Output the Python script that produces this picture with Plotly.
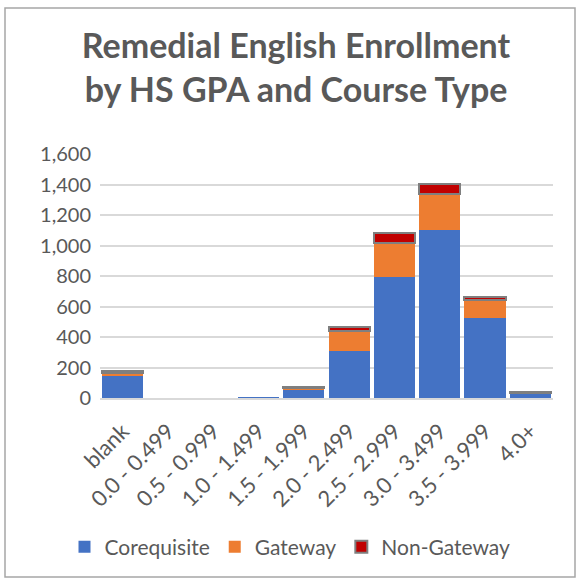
import plotly.graph_objects as go

gpa_bands = ["blank", "0.0 - 0.499", "0.5 - 0.999", "1.0 - 1.499", "1.5 - 1.999",
             "2.0 - 2.499", "2.5 - 2.999", "3.0 - 3.499", "3.5 - 3.999", "4.0+"]
corequisite = [145, None, None, 3, 55, 310, 795, 1100, 525, 28]
gateway = [17, None, None, None, 12, 130, 220, 235, 115, 5]
non_gateway = [12, None, None, None, 6, 25, 65, 70, 25, 5]

TEXT = "#595959"
GRID = "#d9d9d9"
FONT = "Lato"

W, H = 580, 579
ML, MR, MT, MB = 100, 27, 154, 181

fig = go.Figure()
fig.add_trace(go.Bar(x=gpa_bands, y=corequisite, name="Corequisite",
                     marker=dict(color="#4472C4", line=dict(width=0))))
fig.add_trace(go.Bar(x=gpa_bands, y=gateway, name="Gateway",
                     marker=dict(color="#ED7D31", line=dict(width=0))))
fig.add_trace(go.Bar(x=gpa_bands, y=non_gateway, name="Non-Gateway",
                     marker=dict(color="#C00000", line=dict(color="#7f7f7f", width=2))))

pw, ph = W - ML - MR, H - MT - MB


def px_x(v):
    return (v - ML) / pw


def px_y(v):
    return (H - MB - v) / ph


fig.update_layout(
    width=W, height=H,
    barmode="stack", bargap=0.09,
    paper_bgcolor="white", plot_bgcolor="white",
    font=dict(family=FONT, size=20, color=TEXT),
    title=dict(text="<b>Remedial English Enrollment<br>by HS GPA and Course Type</b>",
               x=296 / W, xanchor="center", y=1 - 58 / H, yanchor="middle",
               font=dict(family=FONT, size=34, color=TEXT)),
    margin=dict(l=ML, r=MR, t=MT, b=MB, autoexpand=False),
    legend=dict(orientation="h", x=px_x(290), xanchor="center", y=px_y(547), yanchor="middle",
                font=dict(size=21, color=TEXT), traceorder="normal"),
    shapes=[dict(type="rect", xref="paper", yref="paper",
                 x0=px_x(5), x1=px_x(575), y0=px_y(577), y1=px_y(8),
                 line=dict(color="#a6a6a6", width=1.5), layer="below")],
)
fig.update_xaxes(showgrid=False, tickangle=-45, showline=True, linecolor=GRID, linewidth=1.5,
                 ticks="", automargin=False, ticklabelstandoff=10,
                 tickfont=dict(size=22, color=TEXT))
fig.update_yaxes(range=[0, 1600], dtick=200, tickformat=",", gridcolor=GRID, gridwidth=1.5,
                 zeroline=False, ticks="", automargin=False, ticklabelstandoff=8,
                 tickfont=dict(size=20, color=TEXT))

fig.write_html("out.html", config={"displayModeBar": False},
               post_script="document.body.style.margin='0';")
